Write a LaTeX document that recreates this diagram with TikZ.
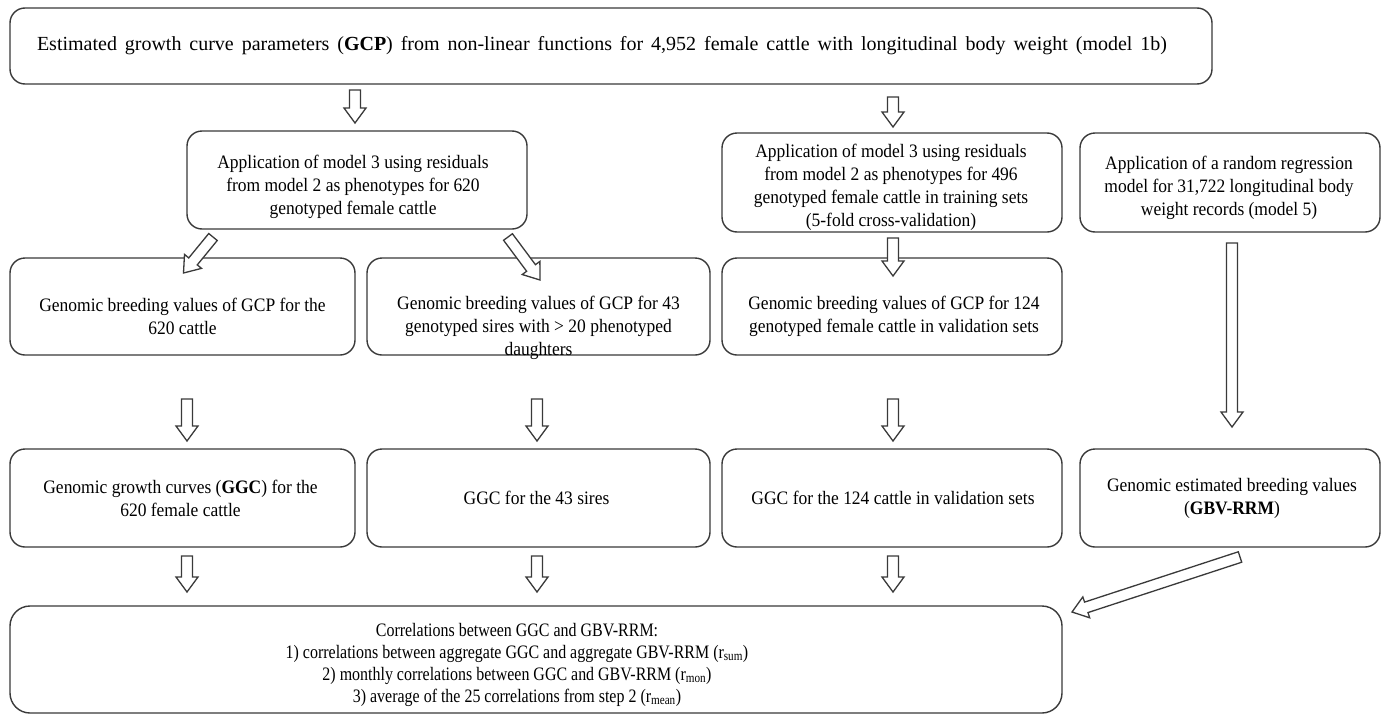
\documentclass[tikz,border=0pt]{standalone}
\usepackage{fontspec}
\setmainfont{Liberation Serif}[FakeStretch=0.92]
\newfontfamily\widefont{Liberation Serif}
\newfontfamily\condfont{Liberation Serif}[FakeStretch=0.84]
\usetikzlibrary{calc}
\definecolor{edge}{HTML}{3A3A3A}
\tikzset{
  box/.style={draw=edge, line width=1.4pt, rounded corners=15pt, inner sep=0pt, outer sep=0pt},
  txt/.style={align=center, inner sep=0pt, font=\fontsize{19}{23}\selectfont, text=black},
  harr/.style={draw=edge, line width=1.3pt, fill=white, line join=miter}
}
\newcommand\boxat[5]{%
  \node[box, minimum width={(#4-#2)*1pt}, minimum height={(#5-#3)*1pt}] (#1) at ({(#2+#4)/2},{(#3+#5)/2}) {};}
\newcommand\harrow[2]{%
  \path (#1) coordinate (ha-s) (#2) coordinate (ha-t);
  \path ($(ha-t)!15pt!(ha-s)$) coordinate (ha-h);
  \draw[harr] ($(ha-s)!5.5pt!90:(ha-t)$) -- ($(ha-h)!5.5pt!-90:(ha-s)$) -- ($(ha-h)!11pt!-90:(ha-s)$) -- (ha-t)
     -- ($(ha-h)!11pt!90:(ha-s)$) -- ($(ha-h)!5.5pt!90:(ha-s)$) -- ($(ha-s)!5.5pt!-90:(ha-t)$) -- cycle;}
\begin{document}
\begin{tikzpicture}[x=1pt,y=-1pt]
\useasboundingbox[fill=white] (0,0) rectangle (1387,715);
% boxes
\boxat{top}{10}{8}{1212}{84}
\boxat{A}{187}{131}{527}{229}
\boxat{B}{722}{133}{1062}{232}
\boxat{C}{1080}{133}{1380}{232}
\boxat{D}{10}{258}{355}{355}
\boxat{E}{367}{258}{710}{355}
\boxat{F}{722}{258}{1062}{355}
\boxat{G}{10}{449}{355}{547}
\boxat{H}{367}{449}{710}{547}
\boxat{I}{722}{449}{1062}{547}
\boxat{J}{1080}{449}{1380}{547}
\node[box, rounded corners=20pt, minimum width=1052pt, minimum height=107pt] (bot) at (536,659.5) {};
% texts
\node[txt, font=\fontsize{20}{23}\widefont] (toptx) at ($(top.center)+(-9,0)$) {\makebox[1130pt][s]{Estimated growth curve parameters (\textbf{GCP}) from non-linear functions for 4,952 female cattle with longitudinal body weight (model 1b)}};
\node[txt] (Atx) at ($(A.center)+(-4,7)$) {Application of model 3 using residuals\\from model 2 as phenotypes for 620\\genotyped female cattle};
\node[txt] (Btx) at ($(B.center)+(-1,5)$) {Application of model 3 using residuals\\from model 2 as phenotypes for 496\\genotyped female cattle in training sets\\(5-fold cross-validation)};
\node[txt] (Ctx) at ($(C.center)+(-1,5)$) {Application of a random regression\\model for 31,722 longitudinal body\\weight records (model 5)};
\node[txt] (Dtx) at ($(D.center)+(0,10)$) {Genomic breeding values of GCP for the\\620 cattle};
\node[txt] (Etx) at ($(E.center)+(0,21)$) {Genomic breeding values of GCP for 43\\genotyped sires with > 20 phenotyped\\daughters};
\node[txt] (Ftx) at ($(F.center)+(2,10)$) {Genomic breeding values of GCP for 124\\genotyped female cattle in validation sets};
\node[txt] (Gtx) at ($(G.center)+(-2,0)$) {Genomic growth curves (\textbf{GGC}) for the\\620 female cattle};
\node[txt] (Htx) at ($(H.center)+(-2,0)$) {GGC for the 43 sires};
\node[txt] (Itx) at ($(I.center)+(1,0)$) {GGC for the 124 cattle in validation sets};
\node[txt] (Jtx) at ($(J.center)+(2,0)$) {Genomic estimated breeding values\\(\textbf{GBV-RRM})};
\node[txt, font=\fontsize{19}{22}\condfont] (bottx) at ($(bot.center)+(-19,5)$) {Correlations between GGC and GBV-RRM:\\1) correlations between aggregate GGC and aggregate GBV-RRM (r\textsubscript{sum})\\2) monthly correlations between GGC and GBV-RRM (r\textsubscript{mon})\\3) average of the 25 correlations from step 2 (r\textsubscript{mean})};
% arrows
\harrow{$(top.south -| A.north)+(-2,6)$}{$(A.north)+(-2,-8)$}
\harrow{$(top.south -| B.north)+(1,13)$}{$(B.north)+(1,-6)$}
\harrow{$(A.south)+(-144,8)$}{$(D.north)+(1,15)$}
\harrow{$(A.south)+(151,8)$}{$(E.north)+(1.5,22)$}
\harrow{$(B.south)+(1,6)$}{$(F.north)+(1,18)$}
\harrow{$(C.south)+(2,11)$}{$(J.north)+(2,-22)$}
\harrow{$(D.south)+(4.5,44)$}{$(G.north)+(4.5,-8)$}
\harrow{$(E.south)+(-1.5,44)$}{$(H.north)+(-1.5,-8)$}
\harrow{$(F.south)+(1,44)$}{$(I.north)+(1,-8)$}
\harrow{$(G.south)+(4.5,9)$}{$(G.south |- bot.north)+(4.5,-14)$}
\harrow{$(H.south)+(-1.5,9)$}{$(H.south |- bot.north)+(-1.5,-14)$}
\harrow{$(I.south)+(1,9)$}{$(I.south |- bot.north)+(1,-14)$}
\harrow{$(J.south)+(10,10)$}{$(bot.north east)+(10,6)$}
\end{tikzpicture}
\end{document}
